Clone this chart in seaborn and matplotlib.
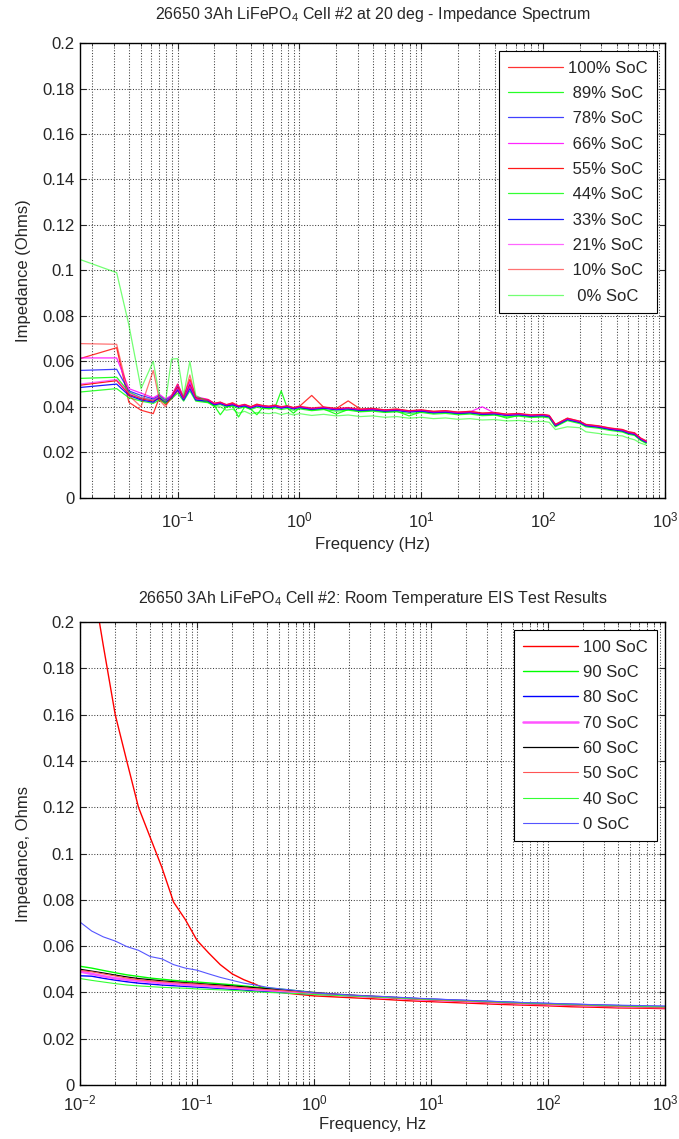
import numpy as np
import pandas as pd
import matplotlib
matplotlib.use('Agg')
import matplotlib.pyplot as plt
from matplotlib.ticker import FuncFormatter, LogLocator
import seaborn as sns

sns.set_style('ticks')
plt.rcParams.update({'font.family'       : ['Liberation Sans', 'DejaVu Sans'],
                     'mathtext.fontset'  : 'custom',
                     'mathtext.rm'       : 'Liberation Sans',
                     'mathtext.it'       : 'Liberation Sans:italic',
                     'mathtext.bf'       : 'Liberation Sans:bold',
                     'font.size'         : 12,
                     'axes.linewidth'    : 1.0,
                     'axes.edgecolor'    : 'black'})

#-- top panel: 20 deg impedance spectrum --
freq_top = [0.0158, 0.0316, 0.0398, 0.0501, 0.0631, 0.0708, 0.0794, 0.0891, 0.1, 0.112,
            0.126, 0.141, 0.178, 0.2, 0.224, 0.251, 0.282, 0.316, 0.355, 0.398,
            0.447, 0.501, 0.562, 0.631, 0.708, 0.794, 0.891, 1.0, 1.26, 1.58,
            2.0, 2.51, 3.16, 3.98, 5.01, 6.31, 7.94, 10.0, 12.6, 15.8,
            20.0, 25.1, 31.6, 39.8, 50.1, 63.1, 79.4, 100, 112, 126,
            158, 200, 224, 282, 355, 447, 501, 562, 631, 700]

soc100 = [0.0612, 0.0660, 0.0420, 0.0385, 0.0370, 0.0440, 0.0410, 0.0435, 0.0470, 0.0440,
          0.0520, 0.0440, 0.0430, 0.0415, 0.0420, 0.0408, 0.0418, 0.0403, 0.0410, 0.0400,
          0.0412, 0.0405, 0.0402, 0.0408, 0.0398, 0.0404, 0.0396, 0.0402, 0.0450, 0.0398,
          0.0392, 0.0426, 0.0390, 0.0393, 0.0386, 0.0390, 0.0382, 0.0386, 0.0380, 0.0383,
          0.0376, 0.0380, 0.0372, 0.0375, 0.0367, 0.0370, 0.0363, 0.0366, 0.0361, 0.0322,
          0.0350, 0.0336, 0.0322, 0.0316, 0.0306, 0.0300, 0.0290, 0.0286, 0.0262, 0.0250]
soc89 = [0.0525, 0.0530, 0.0465, 0.0440, 0.0430, 0.0445, 0.0425, 0.0450, 0.0480, 0.0435,
         0.0490, 0.0430, 0.0420, 0.0405, 0.0365, 0.0400, 0.0405, 0.0355, 0.0400, 0.0390,
         0.0365, 0.0398, 0.0392, 0.0398, 0.0470, 0.0395, 0.0372, 0.0395, 0.0386, 0.0390,
         0.0368, 0.0388, 0.0380, 0.0384, 0.0378, 0.0380, 0.0360, 0.0378, 0.0372, 0.0375,
         0.0368, 0.0372, 0.0365, 0.0367, 0.0350, 0.0362, 0.0356, 0.0358, 0.0355, 0.0315,
         0.0342, 0.0330, 0.0316, 0.0310, 0.0300, 0.0292, 0.0282, 0.0277, 0.0255, 0.0242]
soc78 = [0.0560, 0.0565, 0.0470, 0.0450, 0.0435, 0.0450, 0.0430, 0.0445, 0.0490, 0.0440,
         0.0500, 0.0440, 0.0428, 0.0412, 0.0417, 0.0406, 0.0412, 0.0401, 0.0407, 0.0397,
         0.0406, 0.0401, 0.0399, 0.0403, 0.0396, 0.0401, 0.0393, 0.0399, 0.0391, 0.0396,
         0.0389, 0.0393, 0.0386, 0.0389, 0.0383, 0.0386, 0.0379, 0.0383, 0.0376, 0.0379,
         0.0373, 0.0376, 0.0369, 0.0371, 0.0364, 0.0367, 0.0361, 0.0363, 0.0359, 0.0319,
         0.0346, 0.0333, 0.0319, 0.0313, 0.0303, 0.0296, 0.0286, 0.0281, 0.0259, 0.0246]
soc66 = [0.0615, 0.0615, 0.0480, 0.0460, 0.0440, 0.0455, 0.0435, 0.0450, 0.0500, 0.0445,
         0.0510, 0.0445, 0.0432, 0.0414, 0.0419, 0.0409, 0.0414, 0.0404, 0.0409, 0.0399,
         0.0408, 0.0404, 0.0401, 0.0405, 0.0399, 0.0403, 0.0395, 0.0401, 0.0393, 0.0398,
         0.0391, 0.0395, 0.0388, 0.0391, 0.0385, 0.0388, 0.0381, 0.0385, 0.0378, 0.0381,
         0.0375, 0.0378, 0.0400, 0.0373, 0.0366, 0.0369, 0.0363, 0.0365, 0.0361, 0.0321,
         0.0348, 0.0335, 0.0321, 0.0315, 0.0305, 0.0298, 0.0288, 0.0283, 0.0261, 0.0248]
soc55 = [0.0495, 0.0515, 0.0455, 0.0435, 0.0425, 0.0440, 0.0420, 0.0440, 0.0485, 0.0430,
         0.0495, 0.0435, 0.0426, 0.0411, 0.0416, 0.0406, 0.0411, 0.0401, 0.0406, 0.0396,
         0.0406, 0.0401, 0.0399, 0.0403, 0.0396, 0.0401, 0.0393, 0.0399, 0.0391, 0.0396,
         0.0389, 0.0393, 0.0386, 0.0389, 0.0383, 0.0386, 0.0379, 0.0383, 0.0376, 0.0379,
         0.0373, 0.0376, 0.0369, 0.0371, 0.0364, 0.0367, 0.0361, 0.0363, 0.0359, 0.0319,
         0.0346, 0.0333, 0.0319, 0.0313, 0.0303, 0.0296, 0.0286, 0.0281, 0.0259, 0.0246]
soc44 = [0.0465, 0.0480, 0.0440, 0.0425, 0.0415, 0.0430, 0.0415, 0.0435, 0.0460, 0.0425,
         0.0470, 0.0425, 0.0418, 0.0404, 0.0410, 0.0398, 0.0404, 0.0392, 0.0400, 0.0388,
         0.0398, 0.0393, 0.0391, 0.0395, 0.0388, 0.0393, 0.0385, 0.0391, 0.0383, 0.0388,
         0.0381, 0.0385, 0.0378, 0.0381, 0.0375, 0.0378, 0.0371, 0.0375, 0.0368, 0.0371,
         0.0365, 0.0368, 0.0361, 0.0363, 0.0356, 0.0359, 0.0353, 0.0355, 0.0351, 0.0312,
         0.0339, 0.0326, 0.0312, 0.0306, 0.0296, 0.0289, 0.0279, 0.0274, 0.0252, 0.0239]
soc33 = [0.0485, 0.0500, 0.0450, 0.0430, 0.0420, 0.0440, 0.0420, 0.0440, 0.0475, 0.0430,
         0.0480, 0.0430, 0.0424, 0.0409, 0.0414, 0.0404, 0.0409, 0.0399, 0.0404, 0.0394,
         0.0404, 0.0399, 0.0397, 0.0401, 0.0394, 0.0399, 0.0391, 0.0397, 0.0389, 0.0394,
         0.0387, 0.0391, 0.0384, 0.0387, 0.0381, 0.0384, 0.0377, 0.0381, 0.0374, 0.0377,
         0.0371, 0.0374, 0.0367, 0.0369, 0.0362, 0.0365, 0.0359, 0.0361, 0.0357, 0.0317,
         0.0344, 0.0331, 0.0317, 0.0311, 0.0301, 0.0294, 0.0284, 0.0279, 0.0257, 0.0244]
soc21 = [0.0500, 0.0520, 0.0460, 0.0440, 0.0430, 0.0445, 0.0425, 0.0445, 0.0480, 0.0435,
         0.0490, 0.0435, 0.0430, 0.0413, 0.0418, 0.0408, 0.0413, 0.0403, 0.0408, 0.0398,
         0.0407, 0.0403, 0.0400, 0.0404, 0.0398, 0.0402, 0.0394, 0.0400, 0.0392, 0.0397,
         0.0390, 0.0394, 0.0387, 0.0390, 0.0384, 0.0387, 0.0380, 0.0384, 0.0377, 0.0380,
         0.0374, 0.0377, 0.0370, 0.0372, 0.0365, 0.0368, 0.0362, 0.0364, 0.0360, 0.0320,
         0.0347, 0.0334, 0.0320, 0.0314, 0.0304, 0.0297, 0.0287, 0.0282, 0.0260, 0.0247]
soc10 = [0.0678, 0.0675, 0.0450, 0.0400, 0.0560, 0.0430, 0.0400, 0.0445, 0.0500, 0.0440,
         0.0540, 0.0440, 0.0432, 0.0416, 0.0421, 0.0410, 0.0416, 0.0405, 0.0411, 0.0401,
         0.0410, 0.0406, 0.0403, 0.0407, 0.0401, 0.0405, 0.0397, 0.0403, 0.0395, 0.0400,
         0.0393, 0.0397, 0.0390, 0.0393, 0.0387, 0.0390, 0.0383, 0.0387, 0.0380, 0.0383,
         0.0377, 0.0380, 0.0373, 0.0375, 0.0368, 0.0371, 0.0365, 0.0367, 0.0363, 0.0323,
         0.0350, 0.0337, 0.0323, 0.0317, 0.0307, 0.0300, 0.0290, 0.0285, 0.0263, 0.0250]
soc0 = [0.1048, 0.0990, 0.0760, 0.0480, 0.0600, 0.0450, 0.0420, 0.0610, 0.0612, 0.0450,
        0.0600, 0.0450, 0.0420, 0.0400, 0.0400, 0.0385, 0.0390, 0.0372, 0.0380, 0.0368,
        0.0375, 0.0372, 0.0370, 0.0374, 0.0366, 0.0372, 0.0364, 0.0370, 0.0362, 0.0367,
        0.0360, 0.0364, 0.0357, 0.0360, 0.0354, 0.0357, 0.0350, 0.0354, 0.0348, 0.0351,
        0.0345, 0.0348, 0.0342, 0.0344, 0.0338, 0.0340, 0.0334, 0.0336, 0.0332, 0.0300,
        0.0312, 0.0308, 0.0290, 0.0283, 0.0276, 0.0272, 0.0262, 0.0255, 0.0240, 0.0232]

top_series = [soc100, soc89, soc78, soc66, soc55, soc44, soc33, soc21, soc10, soc0]
top_labels = ['100% SoC', ' 89% SoC', ' 78% SoC', ' 66% SoC', ' 55% SoC',
              ' 44% SoC', ' 33% SoC', ' 21% SoC', ' 10% SoC', '  0% SoC']
top_colors = ['#ff0000', '#00ff00', '#0000ff', '#ff00ff', '#ff0000',
              '#00ff00', '#0000ff', '#ff00ff', '#ff0000', '#00ff00']
top_alpha  = [0.8, 0.85, 0.75, 0.85, 0.9, 0.8, 0.9, 0.6, 0.55, 0.55]

#-- bottom panel: room temperature EIS --
freq_bot = [0.01, 0.0126, 0.0158, 0.02, 0.0251, 0.0316, 0.0398, 0.0501, 0.0631, 0.0794,
            0.1, 0.126, 0.158, 0.2, 0.251, 0.316, 0.398, 0.501, 0.631, 0.794,
            1.0, 1.58, 2.51, 3.98, 6.31, 10, 15.8, 25.1, 39.8, 63.1,
            100, 158, 251, 398, 631, 1000]

rt100 = [0.2600, 0.2200, 0.1900, 0.1600, 0.1400, 0.1200, 0.1070, 0.0940, 0.0790, 0.0715,
         0.0625, 0.0570, 0.0520, 0.0480, 0.0455, 0.0435, 0.0412, 0.0402, 0.0395, 0.0390,
         0.0385, 0.0380, 0.0375, 0.0370, 0.0364, 0.0360, 0.0356, 0.0352, 0.0348, 0.0345,
         0.0342, 0.0338, 0.0336, 0.0333, 0.0332, 0.0330]
rt90 = [0.0513, 0.0505, 0.0495, 0.0485, 0.0476, 0.0469, 0.0462, 0.0457, 0.0452, 0.0448,
        0.0445, 0.0441, 0.0437, 0.0433, 0.0428, 0.0423, 0.0419, 0.0415, 0.0410, 0.0405,
        0.0400, 0.0392, 0.0386, 0.0381, 0.0375, 0.0370, 0.0366, 0.0362, 0.0358, 0.0354,
        0.0350, 0.0347, 0.0344, 0.0341, 0.0339, 0.0337]
rt80 = [0.0472, 0.0470, 0.0461, 0.0453, 0.0446, 0.0440, 0.0436, 0.0432, 0.0429, 0.0426,
        0.0423, 0.0420, 0.0417, 0.0413, 0.0410, 0.0406, 0.0403, 0.0400, 0.0398, 0.0395,
        0.0393, 0.0388, 0.0384, 0.0380, 0.0375, 0.0371, 0.0367, 0.0363, 0.0359, 0.0355,
        0.0352, 0.0349, 0.0346, 0.0343, 0.0341, 0.0339]
rt70 = [0.0490, 0.0480, 0.0470, 0.0461, 0.0455, 0.0450, 0.0445, 0.0440, 0.0437, 0.0433,
        0.0430, 0.0427, 0.0423, 0.0420, 0.0417, 0.0413, 0.0410, 0.0407, 0.0403, 0.0400,
        0.0397, 0.0390, 0.0384, 0.0379, 0.0373, 0.0368, 0.0364, 0.0360, 0.0356, 0.0352,
        0.0349, 0.0346, 0.0343, 0.0340, 0.0338, 0.0336]
rt60 = [0.0500, 0.0492, 0.0484, 0.0475, 0.0467, 0.0460, 0.0455, 0.0450, 0.0446, 0.0442,
        0.0439, 0.0435, 0.0432, 0.0428, 0.0424, 0.0420, 0.0416, 0.0412, 0.0408, 0.0403,
        0.0399, 0.0391, 0.0385, 0.0380, 0.0374, 0.0369, 0.0365, 0.0361, 0.0357, 0.0353,
        0.0350, 0.0347, 0.0344, 0.0341, 0.0339, 0.0337]
rt50 = [0.0495, 0.0489, 0.0480, 0.0471, 0.0462, 0.0455, 0.0450, 0.0446, 0.0442, 0.0439,
        0.0436, 0.0432, 0.0428, 0.0424, 0.0420, 0.0416, 0.0412, 0.0409, 0.0405, 0.0401,
        0.0397, 0.0389, 0.0383, 0.0378, 0.0372, 0.0367, 0.0363, 0.0359, 0.0355, 0.0351,
        0.0348, 0.0345, 0.0342, 0.0339, 0.0337, 0.0335]
rt40 = [0.0460, 0.0452, 0.0445, 0.0438, 0.0432, 0.0428, 0.0425, 0.0422, 0.0420, 0.0418,
        0.0415, 0.0413, 0.0411, 0.0409, 0.0406, 0.0403, 0.0400, 0.0398, 0.0396, 0.0394,
        0.0391, 0.0387, 0.0383, 0.0379, 0.0374, 0.0370, 0.0366, 0.0362, 0.0358, 0.0354,
        0.0351, 0.0348, 0.0345, 0.0342, 0.0340, 0.0338]
rt0 = [0.0704, 0.0665, 0.0640, 0.0622, 0.0598, 0.0582, 0.0555, 0.0545, 0.0520, 0.0505,
       0.0496, 0.0480, 0.0465, 0.0452, 0.0440, 0.0432, 0.0422, 0.0416, 0.0411, 0.0405,
       0.0398, 0.0392, 0.0386, 0.0382, 0.0377, 0.0372, 0.0368, 0.0364, 0.0360, 0.0356,
       0.0353, 0.0350, 0.0347, 0.0345, 0.0343, 0.0341]

bot_series = [rt100, rt90, rt80, rt70, rt60, rt50, rt40, rt0]
bot_labels = ['100 SoC', '90 SoC', '80 SoC', '70 SoC', '60 SoC', '50 SoC', '40 SoC', '0 SoC']
bot_colors = ['#ff0000', '#00ff00', '#0000ff', '#ff55ff', '#000000', '#ff5555', '#33ff33', '#5555ff']
bot_lw     = [1.0, 1.0, 1.0, 1.8, 0.9, 0.8, 0.8, 0.8]


def style_axes(ax, xmin, xpad):
    ax.set_xscale('log')
    ax.set_xlim(xmin, 1000)
    ax.set_ylim(0, 0.2)
    ax.set_yticks(np.arange(0, 0.201, 0.02))
    ax.yaxis.set_major_formatter(FuncFormatter(lambda v, p: '%g' % round(v, 3)))
    ax.xaxis.set_major_locator(LogLocator(base=10, numticks=10))
    ax.xaxis.set_minor_locator(LogLocator(base=10, subs=np.arange(2, 10), numticks=20))
    ax.grid(True, which='major', axis='both', ls=':', color='0.25', lw=0.75)
    ax.grid(True, which='minor', axis='x', ls=':', color='0.25', lw=0.75)
    ax.tick_params(which='both', direction='in', top=True, right=True, labelsize=12)
    ax.tick_params(which='major', length=4, width=0.8)
    ax.tick_params(which='minor', length=2, width=0.6)
    ax.tick_params(axis='x', which='major', pad=xpad)
    ax.tick_params(axis='y', which='major', pad=4)
    for s in ax.spines.values():
        s.set_visible(True)
        s.set_linewidth(1.0)


def make_legend(ax):
    leg = ax.legend(loc='upper right', fontsize=12, handlelength=3.3, handletextpad=0.3,
                    labelspacing=0.62, borderpad=0.55, borderaxespad=0.5,
                    fancybox=False, edgecolor='black', framealpha=1)
    leg.get_frame().set_linewidth(0.8)
    return leg


fig = plt.figure(figsize=(6.79, 11.39), dpi=100)
ax1 = fig.add_axes([0.1178, 0.5630, 0.8616, 0.3992])
ax2 = fig.add_axes([0.1178, 0.0474, 0.8616, 0.4065])

df_top = pd.DataFrame({'freq': freq_top})
for vals, lab, col, a in zip(top_series, top_labels, top_colors, top_alpha):
    df_top['imp'] = vals
    sns.lineplot(data=df_top, x='freq', y='imp', color=col, alpha=a, lw=0.9, label=lab, ax=ax1)
style_axes(ax1, 0.0158, 9)
ax1.set_title(r'26650 3Ah LiFePO$_4$ Cell #2 at 20 deg - Impedance Spectrum', fontsize=11.5, pad=17)
ax1.set_xlabel('Frequency (Hz)', fontsize=12, labelpad=5)
ax1.set_ylabel('Impedance (Ohms)', fontsize=12, labelpad=8)
make_legend(ax1)

df_bot = pd.DataFrame({'freq': freq_bot})
for vals, lab, col, w in zip(bot_series, bot_labels, bot_colors, bot_lw):
    df_bot['imp'] = vals
    sns.lineplot(data=df_bot, x='freq', y='imp', color=col, lw=w, label=lab, ax=ax2)
style_axes(ax2, 0.01, 6)
ax2.set_title(r'26650 3Ah LiFePO$_4$ Cell #2: Room Temperature EIS Test Results', fontsize=11.5, pad=14)
ax2.set_xlabel('Frequency, Hz', fontsize=12, labelpad=3)
ax2.set_ylabel('Impedance, Ohms', fontsize=12, labelpad=8)
make_legend(ax2)

plt.savefig('out.png', dpi=100)
